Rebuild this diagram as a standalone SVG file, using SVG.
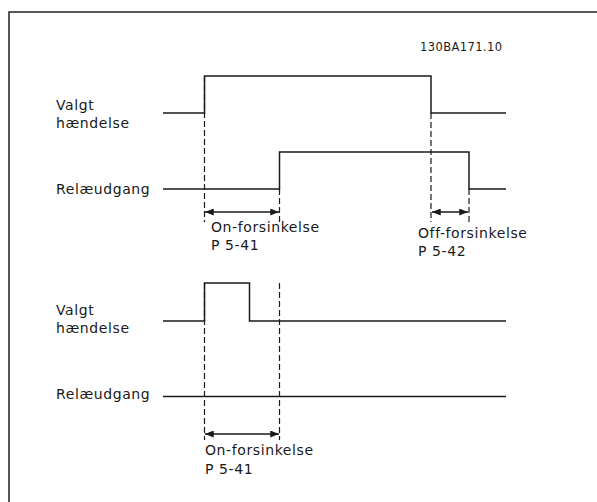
<svg xmlns="http://www.w3.org/2000/svg" width="597" height="502" viewBox="0 0 597 502">
<style>
.t{font-family:"DejaVu Sans",Verdana,sans-serif;font-size:14px;letter-spacing:0.6px;fill:#1a1a1a}
.c{font-family:"DejaVu Sans",Verdana,sans-serif;font-size:11.5px;letter-spacing:0.4px;fill:#1a1a1a}
.w{fill:none;stroke:#1a1a1a;stroke-width:1.5}
.d{fill:none;stroke:#1a1a1a;stroke-width:1.2;stroke-dasharray:6,3}
.a{fill:none;stroke:#1a1a1a;stroke-width:1.5;marker-start:url(#ah);marker-end:url(#ah)}
</style>
<defs>
<marker id="ah" viewBox="0 0 10 8" refX="10" refY="4" markerWidth="10" markerHeight="7" markerUnits="userSpaceOnUse" orient="auto-start-reverse">
<path d="M0,0 L10,4 L0,8 Z" fill="#1a1a1a"/>
</marker>
</defs>
<rect width="597" height="502" fill="#fff"/>
<g id="frame"><path d="M9,502 V12 H597" fill="none" stroke="#222" stroke-width="1.5"/></g>
<text class="c" x="420" y="51">130BA171.10</text>
<g id="top-event">
<text class="t" x="56" y="110">Valgt</text>
<text class="t" x="56" y="128">hændelse</text>
<path class="w" d="M163,113 H204.5 V76 H431 V113 H506"/>
</g>
<g id="top-relay">
<text class="t" x="56" y="194">Relæudgang</text>
<path class="w" d="M163,189 H279.5 V152 H469 V189 H506"/>
</g>
<g id="bottom-event">
<text class="t" x="56" y="315">Valgt</text>
<text class="t" x="56" y="333">hændelse</text>
<path class="w" d="M163,321 H204.5 V283 H249.5 V321 H506"/>
</g>
<g id="bottom-relay">
<text class="t" x="56" y="399">Relæudgang</text>
<path class="w" d="M163,396.5 H506"/>
</g>
<g id="connectors">
<path class="d" d="M204.5,76 V222"/>
<path class="d" d="M279.5,189 V222"/>
<path class="d" d="M431,113 V222"/>
<path class="d" d="M469,189 V222"/>
<path class="a" d="M205,212 H279"/>
<path class="a" d="M432,212 H468"/>
<path class="d" d="M204.5,283 V440"/>
<path class="d" d="M279.5,283 V440"/>
<path class="a" d="M205,434 H279"/>
</g>
<g id="labels">
<text class="t" x="211" y="232">On-forsinkelse</text>
<text class="t" x="211" y="250">P 5-41</text>
<text class="t" x="418" y="238">Off-forsinkelse</text>
<text class="t" x="418" y="256">P 5-42</text>
<text class="t" x="205" y="455">On-forsinkelse</text>
<text class="t" x="205" y="474">P 5-41</text>
</g>
</svg>
